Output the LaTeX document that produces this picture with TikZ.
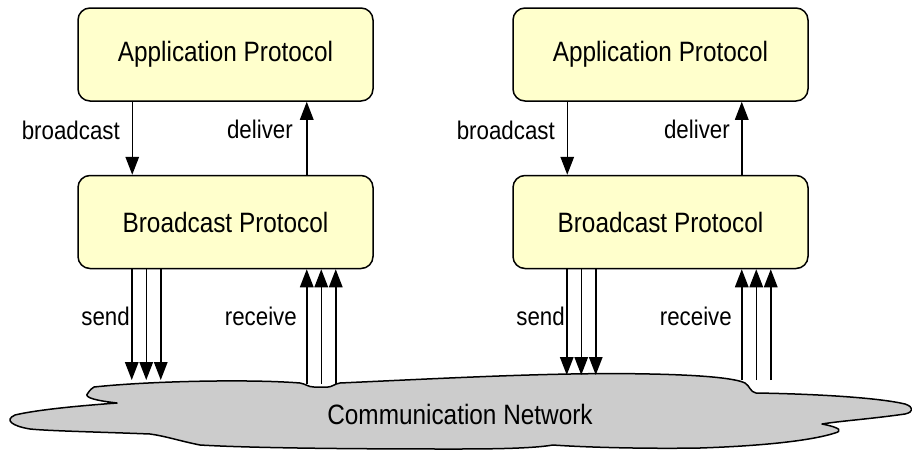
\documentclass[tikz,border=0pt]{standalone}
\usepackage{fontspec}
\setmainfont{Liberation Sans}
\newfontfamily\boxfont[FakeStretch=0.87]{Liberation Sans}
\newfontfamily\labelfont[FakeStretch=0.875]{Liberation Sans}
\usetikzlibrary{arrows.meta}
\definecolor{boxfill}{RGB}{255,255,204}
\definecolor{netfill}{RGB}{204,204,204}

\begin{document}
\begin{tikzpicture}[x=1pt,y=-1pt,
  layerbox/.style={draw, line width=1.5pt, fill=boxfill, rounded corners=12pt,
    minimum width=295pt, minimum height=93pt, inner sep=0pt,
    font=\boxfont\fontsize{28}{32}\selectfont},
  arr/.style={line width=1.5pt, -{Triangle[length=18pt,width=13.5pt]}},
  lbl/.style={anchor=base east, inner sep=0pt,
    font=\labelfont\fontsize{25.5}{29}\selectfont},
  netshape/.style={draw, line width=1.5pt, fill=netfill, line join=round},
]
\useasboundingbox (0,0) rectangle (912,450);

% the network cloud
\path[netshape] (94,387)
  .. controls (150,381) and (250,379) .. (300,383)
  .. controls (306,384) and (308,387) .. (314,387)
  -- (328,387)
  .. controls (332,387) and (334,384) .. (340,383)
  .. controls (450,378) and (560,372) .. (650,374)
  .. controls (700,375) and (735,378) .. (745,383)
  .. controls (750,386) and (750,392) .. (756,393)
  .. controls (820,394) and (880,398) .. (905,404)
  .. controls (914,407) and (914,412) .. (905,414)
  .. controls (870,419) and (840,421) .. (822,424)
  .. controls (842,428) and (842,431) .. (835,433)
  .. controls (810,441) and (760,446) .. (700,448)
  .. controls (640,449) and (580,447) .. (553,445)
  .. controls (530,449) and (480,449) .. (450,449)
  .. controls (350,449) and (250,448) .. (200,445)
  .. controls (180,441) and (165,436) .. (150,434)
  .. controls (100,432) and (50,431) .. (30,429)
  .. controls (12,426) and (4,420) .. (15,415)
  .. controls (40,409) and (90,405) .. (117,403)
  .. controls (100,401) and (82,398) .. (88,393)
  .. controls (90,390) and (92,388) .. cycle;
\node[font=\boxfont\fontsize{28}{32}\selectfont] (net) at (460,414) {Communication Network};

% attachment levels on the cloud edge
\coordinate (netLtop) at (0,380);
\coordinate (netLbot) at (0,384);
\coordinate (netRtop) at (0,375);
\coordinate (netRbot) at (0,380);

% left node stack
\node[layerbox] (appL) at (225.5,54.5) {Application Protocol};
\node[layerbox] (bpL)  at (225.5,222) {Broadcast Protocol};

% right node stack
\node[layerbox] (appR) at (660.5,54.5) {Application Protocol};
\node[layerbox] (bpR)  at (660.5,222) {Broadcast Protocol};

% broadcast / deliver
\foreach \s in {L,R}{
  \draw[arr] ([xshift=55pt]app\s.south west) -- ([xshift=55pt]bp\s.north west);
  \draw[arr] ([xshift=229.5pt]bp\s.north west) -- ([xshift=229.5pt]app\s.south west);
}

% send (three parallel messages) and receive
\foreach \d in {54.5,69,83.5}{
  \draw[arr] ([xshift=\d pt]bpL.south west) -- ([xshift=\d pt]bpL.south west |- netLtop);
  \draw[arr] ([xshift=\d pt]bpR.south west) -- ([xshift=\d pt]bpR.south west |- netRtop);
}
\foreach \d in {229.5,244,258.5}{
  \draw[arr] ([xshift=\d pt]bpL.south west |- netLbot) -- ([xshift=\d pt]bpL.south west);
  \draw[arr] ([xshift=\d pt]bpR.south west |- netRbot) -- ([xshift=\d pt]bpR.south west);
}

% labels
\node[lbl] (bcL) at (120,139) {broadcast};
\node[lbl] (dlL) at (293,138) {deliver};
\node[lbl] (sdL) at (130,325) {send};
\node[lbl] (rcL) at (297,325) {receive};
\node[lbl] (bcR) at (555,139) {broadcast};
\node[lbl] (dlR) at (730,138) {deliver};
\node[lbl] (sdR) at (565,325) {send};
\node[lbl] (rcR) at (732,325) {receive};
\end{tikzpicture}
\end{document}
